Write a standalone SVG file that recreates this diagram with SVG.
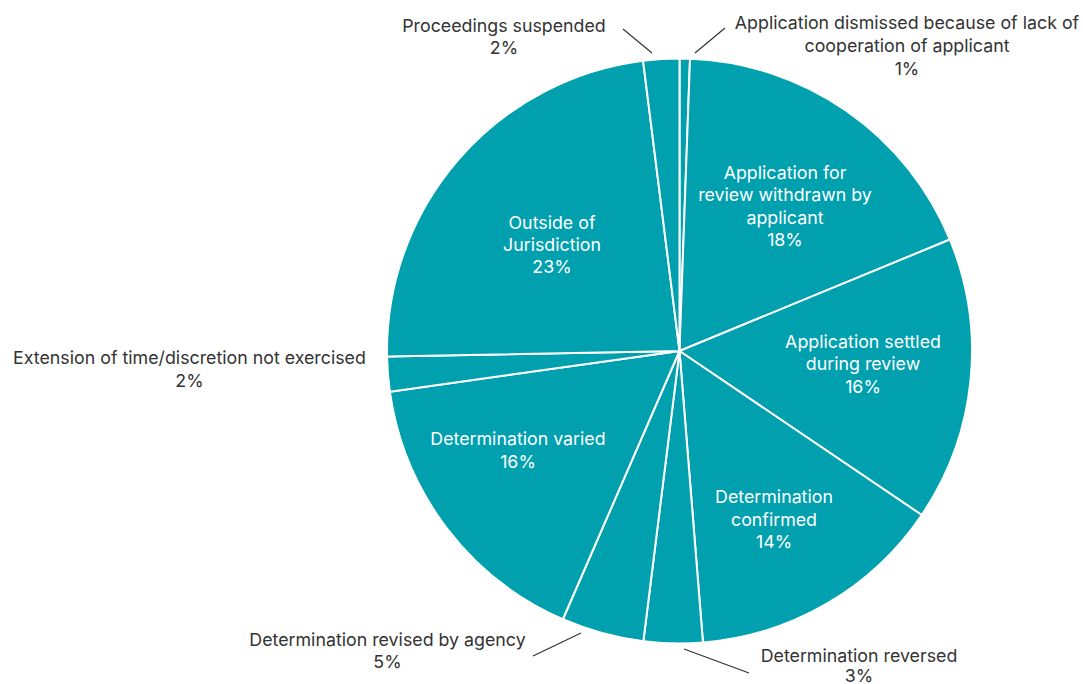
<svg xmlns="http://www.w3.org/2000/svg" width="1083" height="684" viewBox="0 0 1083 684">
<style>
.w{fill:#00A0AF;stroke:#fff;stroke-width:2;stroke-linejoin:round}
.t{font-family:Inter,"Liberation Sans",Arial,sans-serif;font-size:17.8px;text-anchor:middle}
.o{fill:#333}
.i{fill:#fff}
.l{stroke:#333;stroke-width:1.2;fill:none}
</style>
<rect width="1083" height="684" fill="#fff"/>
<g id="slice-dismissed"><path class="w" d="M679.5,351 L679.5,58.5 A292.5,292.5 0 0 1 690.02,58.69 Z"/></g>
<g id="slice-withdrawn"><path class="w" d="M679.5,351 L690.02,58.69 A292.5,292.5 0 0 1 949.93,239.54 Z"/>
<text class="t i" x="785" y="179">Application for</text>
<text class="t i" x="785" y="201">review withdrawn by</text>
<text class="t i" x="785" y="224">applicant</text>
<text class="t i" x="785" y="246">18%</text></g>
<g id="slice-settled"><path class="w" d="M679.5,351 L949.93,239.54 A292.5,292.5 0 0 1 921.71,514.99 Z"/>
<text class="t i" x="863" y="348">Application settled</text>
<text class="t i" x="863" y="370">during review</text>
<text class="t i" x="863" y="393">16%</text></g>
<g id="slice-confirmed"><path class="w" d="M679.5,351 L921.71,514.99 A292.5,292.5 0 0 1 702.96,642.56 Z"/>
<text class="t i" x="774" y="503">Determination</text>
<text class="t i" x="774" y="526">confirmed</text>
<text class="t i" x="774" y="548">14%</text></g>
<g id="slice-reversed"><path class="w" d="M679.5,351 L702.96,642.56 A292.5,292.5 0 0 1 643.35,641.26 Z"/></g>
<g id="slice-revised"><path class="w" d="M679.5,351 L643.35,641.26 A292.5,292.5 0 0 1 562.86,619.24 Z"/></g>
<g id="slice-varied"><path class="w" d="M679.5,351 L562.86,619.24 A292.5,292.5 0 0 1 389.85,391.71 Z"/>
<text class="t i" x="518" y="445">Determination varied</text>
<text class="t i" x="518" y="468">16%</text></g>
<g id="slice-extension"><path class="w" d="M679.5,351 L389.85,391.71 A292.5,292.5 0 0 1 387.05,356.62 Z"/></g>
<g id="slice-outside"><path class="w" d="M679.5,351 L387.05,356.62 A292.5,292.5 0 0 1 643.09,60.78 Z"/>
<text class="t i" x="552" y="229">Outside of</text>
<text class="t i" x="552" y="251">Jurisdiction</text>
<text class="t i" x="552" y="273">23%</text></g>
<g id="slice-suspended"><path class="w" d="M679.5,351 L643.09,60.78 A292.5,292.5 0 0 1 679.5,58.5 Z"/></g>
<g id="connectors">
<line class="l" x1="695" y1="53" x2="725" y2="28"/>
<line class="l" x1="652" y1="53" x2="623" y2="29"/>
<line class="l" x1="581" y1="633" x2="533" y2="656"/>
<line class="l" x1="684" y1="649" x2="749" y2="673"/>
</g>
<g id="label-dismissed">
<text class="t o" x="907" y="29">Application dismissed because of lack of</text>
<text class="t o" x="907" y="52">cooperation of applicant</text>
<text class="t o" x="907" y="75">1%</text></g>
<g id="label-suspended">
<text class="t o" x="504" y="32">Proceedings suspended</text>
<text class="t o" x="504" y="54">2%</text></g>
<g id="label-extension">
<text class="t o" x="189.5" y="364">Extension of time/discretion not exercised</text>
<text class="t o" x="189.5" y="387">2%</text></g>
<g id="label-revised">
<text class="t o" x="387.5" y="646">Determination revised by agency</text>
<text class="t o" x="387.5" y="668">5%</text></g>
<g id="label-reversed">
<text class="t o" x="859" y="662">Determination reversed</text>
<text class="t o" x="859" y="682">3%</text></g>
</svg>
